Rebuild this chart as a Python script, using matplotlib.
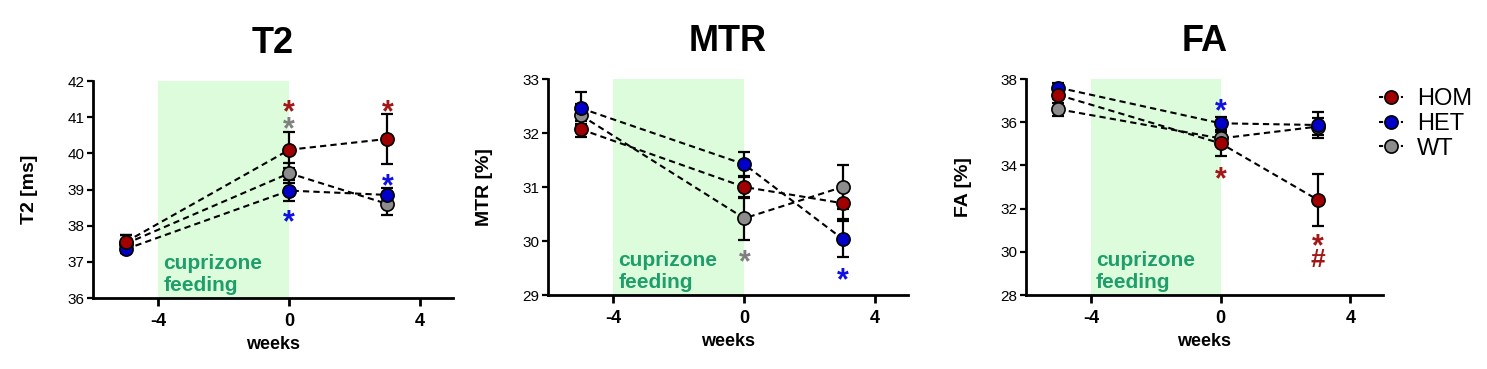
import matplotlib
matplotlib.use("Agg")
import matplotlib.pyplot as plt
from matplotlib.lines import Line2D

plt.rcParams['font.family'] = ['Liberation Sans', 'DejaVu Sans']

######### data ##########
weeks = [-5, 0, 3]
groups = ['HOM', 'HET', 'WT']
colors = {'HOM': '#a00000', 'HET': '#0000c8', 'WT': '#8c8c8c'}

t2_mean = {'HOM': [37.55, 40.10, 40.40], 'HET': [37.35, 38.97, 38.85], 'WT': [37.50, 39.45, 38.60]}
t2_err = {'HOM': [0.20, 0.50, 0.70], 'HET': [0.10, 0.30, 0.20], 'WT': [0.25, 0.28, 0.30]}

mtr_mean = {'HOM': [32.07, 31.00, 30.70], 'HET': [32.46, 31.42, 30.04], 'WT': [32.33, 30.42, 31.00]}
mtr_err = {'HOM': [0.15, 0.20, 0.30], 'HET': [0.30, 0.23, 0.33], 'WT': [0.20, 0.40, 0.40]}

fa_mean = {'HOM': [37.26, 35.02, 32.40], 'HET': [37.60, 35.95, 35.87], 'WT': [36.60, 35.25, 35.80]}
fa_err = {'HOM': [0.20, 0.60, 1.20], 'HET': [0.20, 0.30, 0.60], 'WT': [0.30, 0.30, 0.40]}

# significance marks: (week, value, symbol, group colour)
t2_marks = [(0, 41.35, '*', 'HOM'), (0, 40.88, '*', 'WT'), (0, 38.30, '*', 'HET'),
            (3, 41.35, '*', 'HOM'), (3, 39.30, '*', 'HET')]
mtr_marks = [(0, 29.75, '*', 'WT'), (3, 29.41, '*', 'HET')]
fa_marks = [(0, 36.85, '*', 'HET'), (0, 33.70, '*', 'HOM'), (3, 30.60, '*', 'HOM'),
            (3, 29.60, '#', 'HOM')]

panels = [
    ('T2', 'T2 [ms]', t2_mean, t2_err, t2_marks, (36, 42), [36, 37, 38, 39, 40, 41, 42]),
    ('MTR', 'MTR [%]', mtr_mean, mtr_err, mtr_marks, (29, 33), [29, 30, 31, 32, 33]),
    ('FA', 'FA [%]', fa_mean, fa_err, fa_marks, (28, 38), [28, 30, 32, 34, 36, 38]),
]
######### data ##########

fig = plt.figure(figsize=(14.87, 3.69), dpi=100)
rects = [[0.0625, 0.1924, 0.2421, 0.588],
         [0.3685, 0.2005, 0.2421, 0.5854],
         [0.6900, 0.2005, 0.2400, 0.5854]]

mark_cols = {'HOM': '#a01818', 'HET': '#1010e0', 'WT': '#808080'}

for rect, (title, ylab, mean, err, marks, ylim, yticks) in zip(rects, panels):
    ax = fig.add_axes(rect)
    ax.axvspan(-4, 0, color='#dcfcdc', zorder=0, lw=0)
    ax.text(-3.85, ylim[0] + 0.015 * (ylim[1] - ylim[0]), 'cuprizone\nfeeding',
            color='#1f9e6b', fontsize=15, fontweight='bold', ha='left', va='bottom',
            linespacing=1.2, zorder=1)
    for g in ['WT', 'HET', 'HOM']:
        ax.errorbar(weeks, mean[g], yerr=err[g], fmt='none', ecolor='black',
                    elinewidth=1.6, capsize=4.5, capthick=1.6, zorder=2)
        ax.plot(weeks, mean[g], color='black', lw=1.5, dashes=(3, 2), zorder=3)
        ax.plot(weeks, mean[g], 'o', ms=9.5, mfc=colors[g], mec='black', mew=1.2,
                zorder=4)
    for x, y, s, g in marks:
        # the asterisk glyph sits high in its box, nudge it down
        off = -6 if s == '*' else 0
        ax.annotate(s, (x, y), xytext=(0, off), textcoords='offset points',
                    color=mark_cols[g], fontsize=22 if s == '*' else 19,
                    fontweight='bold', ha='center', va='center', zorder=5)

    ax.set_xlim(-6, 5)
    ax.set_ylim(*ylim)
    ax.set_xticks([-4, 0, 4])
    ax.set_yticks(yticks)
    ax.set_xticklabels(['-4', '0', '4'], fontsize=13, fontweight='bold')
    ax.tick_params(axis='x', length=6, width=2, pad=5)
    ax.tick_params(axis='y', length=4, width=1.6, labelsize=11, pad=2)
    for s in ['top', 'right']:
        ax.spines[s].set_visible(False)
    for s in ['left', 'bottom']:
        ax.spines[s].set_linewidth(2)
    ax.set_title(title, fontsize=26, fontweight='bold', pad=20)
    ax.set_ylabel(ylab, fontsize=14, fontweight='bold')
    ax.yaxis.set_label_coords(-0.152, 0.5)
    ax.set_xlabel('weeks', fontsize=13, fontweight='bold', labelpad=4)

handles = [Line2D([0], [0], color='black', lw=1.5, dashes=(2, 1.5), marker='o',
                  ms=9.5, mfc=colors[g], mec='black', mew=1.2) for g in groups]
fig.legend(handles, groups, loc='upper left', bbox_to_anchor=(1379 / 1487, 1 - 88 / 369),
           frameon=False, fontsize=17, handlelength=1.0, handletextpad=0.6,
           labelspacing=0.12, borderaxespad=0, borderpad=0)

plt.savefig('out.png', dpi=100)
